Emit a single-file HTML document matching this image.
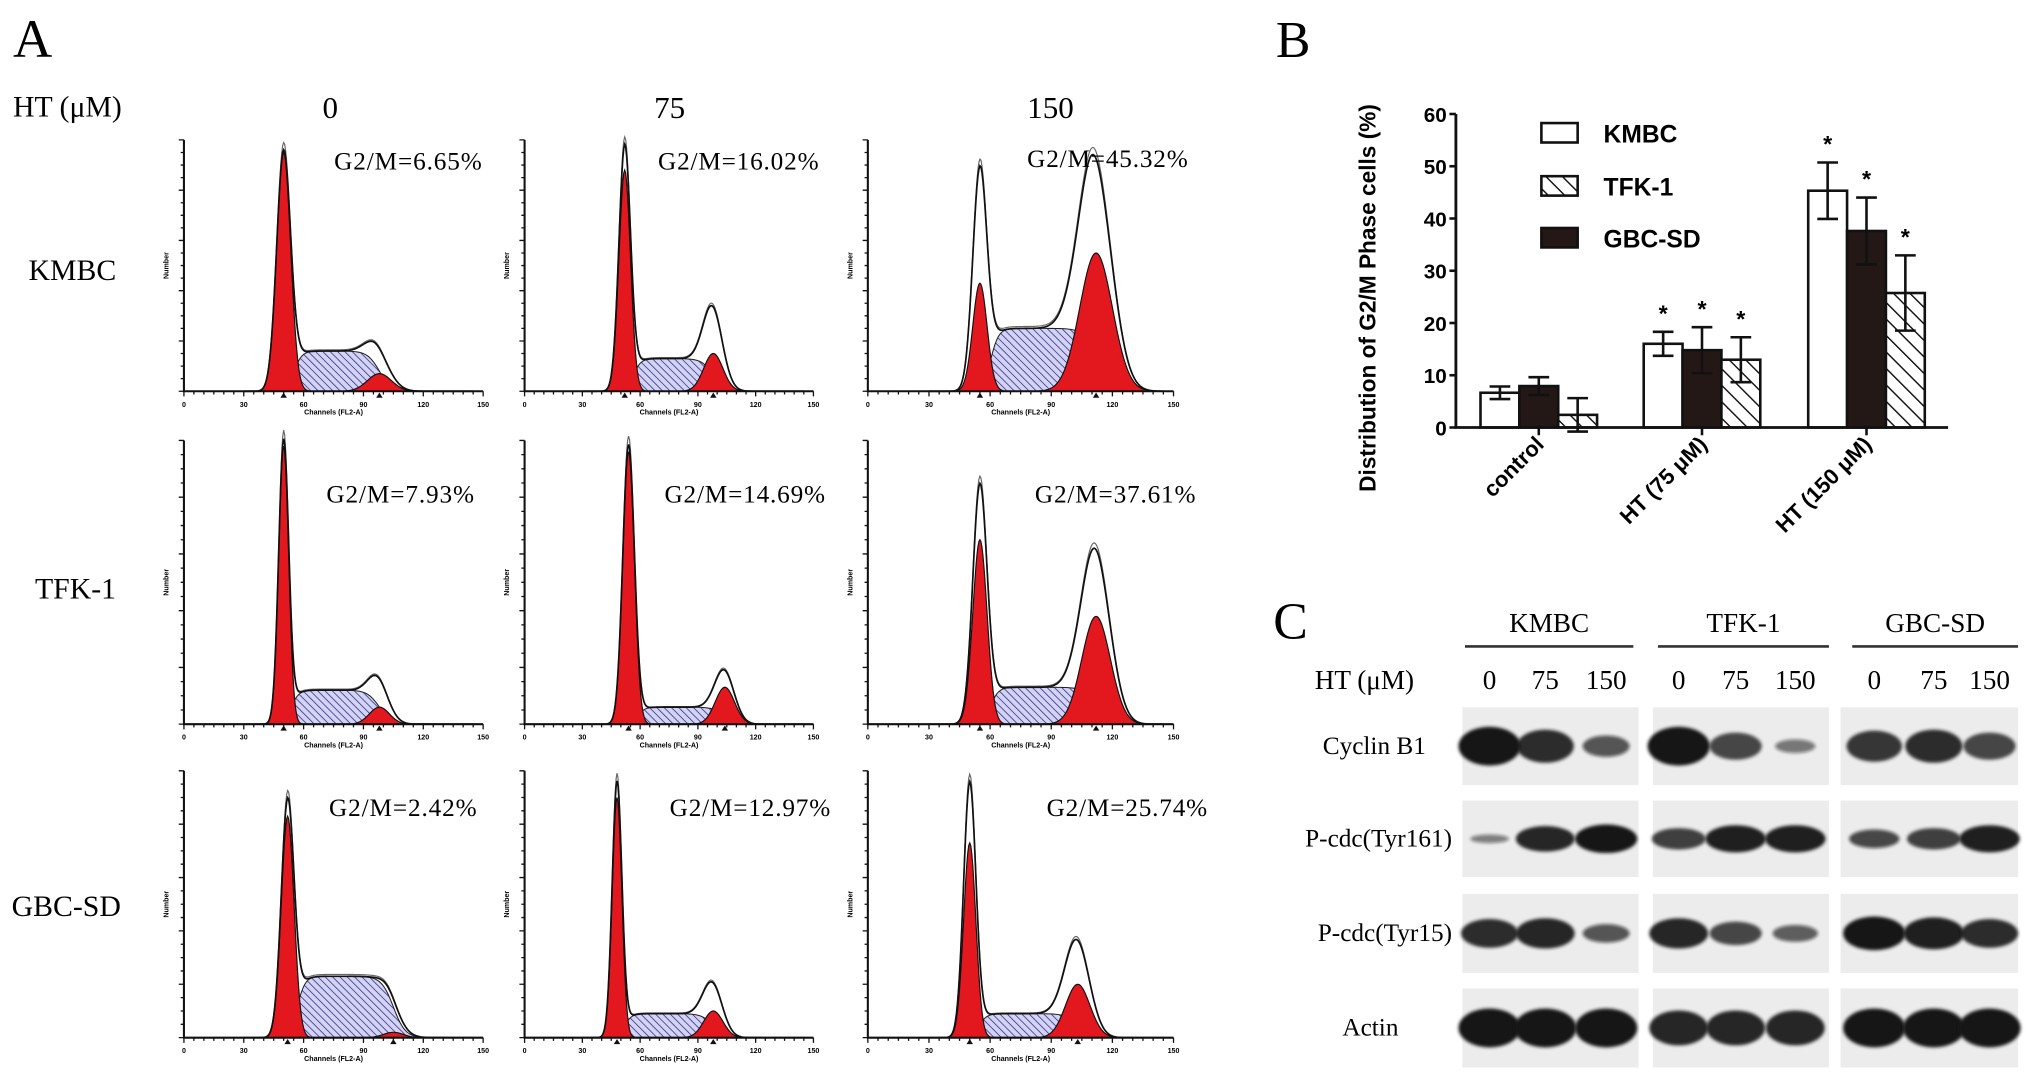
<!DOCTYPE html>
<html><head><meta charset="utf-8"><style>
html,body{margin:0;padding:0;background:#fff;}
svg{display:block;}
.serif{font-family:"Liberation Serif",serif;}
.sans{font-family:"Liberation Sans",sans-serif;font-weight:bold;}
</style></head><body>
<svg id="fig" width="2031" height="1083" viewBox="0 0 1568 836" preserveAspectRatio="none" xmlns="http://www.w3.org/2000/svg">
<defs>
<pattern id="hatchBlue" patternUnits="userSpaceOnUse" width="4" height="4" patternTransform="rotate(-45)">
<rect width="4" height="4" fill="#d4d4f2"/><line x1="0" y1="0" x2="0" y2="4" stroke="#3a3a9a" stroke-width="1.3"/></pattern>
<pattern id="hatchBlack" patternUnits="userSpaceOnUse" width="9" height="9" patternTransform="rotate(-45)">
<rect width="9" height="9" fill="#fff"/><line x1="0" y1="0" x2="0" y2="9" stroke="#111" stroke-width="2.2"/></pattern>
<filter id="blur" x="-20%" y="-50%" width="140%" height="200%"><feGaussianBlur stdDeviation="1.2"/></filter>
</defs>
<g id="panelA">
<text class="serif" x="10" y="44" font-size="42">A</text>
<text class="serif" x="10" y="90" font-size="23">HT (μM)</text>
<text class="serif" x="255" y="91" font-size="24" text-anchor="middle">0</text>
<text class="serif" x="517" y="91" font-size="24" text-anchor="middle">75</text>
<text class="serif" x="811" y="91" font-size="24" text-anchor="middle">150</text>
<text class="serif" x="22" y="216" font-size="23">KMBC</text>
<text class="serif" x="27" y="462" font-size="23">TFK-1</text>
<text class="serif" x="9" y="707" font-size="23">GBC-SD</text>
</g>
<g id="panelB">
<text class="serif" x="985" y="44" font-size="40">B</text>
</g>
<g id="panelC">
<text class="serif" x="983" y="493" font-size="40">C</text>
</g>
</svg>
<script>
// ---------- Panel A: flow cytometry histograms (row-major: KMBC, TFK-1, GBC-SD x 0,75,150) ----------
const g2mLabels = ["G2/M=6.65%","G2/M=16.02%","G2/M=45.32%","G2/M=7.93%","G2/M=14.69%","G2/M=37.61%","G2/M=2.42%","G2/M=12.97%","G2/M=25.74%"];
const g1Center = [50,52,55,50,54,55,52,48,50];
const g1Height = [0.95,0.88,0.43,0.98,0.96,0.65,0.83,0.90,0.73];
const g1Outline = [0.95,0.97,0.88,0.99,0.98,0.84,0.88,0.95,0.95];
const g1Sigma = [3.5,3.0,3.5,2.5,3.0,3.5,3.2,2.5,3.0];
const sLevel = [0.16,0.13,0.25,0.12,0.06,0.13,0.23,0.09,0.09];
const g2Center = [98,98,112,98,104,112,105,98,103];
const g2Height = [0.07,0.15,0.55,0.06,0.13,0.38,0.02,0.10,0.20];
const g2Outline = [0.09,0.27,0.80,0.10,0.16,0.55,0.03,0.16,0.32];
const g2Sigma = [6,5,8,5,5,7,5,5,6];
const channelTicks = [0,30,60,90,120,150];

const NS="http://www.w3.org/2000/svg";
const svg=document.getElementById('fig');
function mk(tag,attrs,parent){const e=document.createElementNS(NS,tag);for(const k in attrs)e.setAttribute(k,attrs[k]);(parent||svg).appendChild(e);return e;}
const colX=[[142,373],[405,628],[670,906]];
const rowY=[[108,302],[340,559],[595,801]];
const labelPos=[[258,131],[508,131],[793,129],[252,388],[513,388],[799,388],[254,630],[517,630],[808,630]];
function gauss(x,c,h,s){return h*Math.exp(-(x-c)*(x-c)/(2*s*s));}
function sig(t){return 1/(1+Math.exp(-t));}
const pA=document.getElementById('panelA');
for(let i=0;i<9;i++){
  const r=Math.floor(i/3),c=i%3;
  const x0=colX[c][0],x1=colX[c][1],top=rowY[r][0],base=rowY[r][1];
  const H=base-top;
  const xs=ch=>x0+(ch/150)*(x1-x0);
  const ys=v=>base-v*H;
  const g=mk('g',{},pA);
  
  
  const S=ch=>sLevel[i]*sig((ch-(g1Center[i]+1.5*g1Sigma[i]))/2)*sig((g2Center[i]-ch)/3);
  const G1=ch=>gauss(ch,g1Center[i],g1Height[i],g1Sigma[i]);
  const G2=ch=>gauss(ch,g2Center[i],g2Height[i],g2Sigma[i]);
  const OUT=ch=>gauss(ch,g1Center[i],g1Outline[i],g1Sigma[i])+S(ch)+gauss(ch,g2Center[i],g2Outline[i],g2Sigma[i]);
  function area(f){let d='M'+xs(30)+','+base;for(let ch=30;ch<=145;ch+=0.5){d+=' L'+xs(ch).toFixed(2)+','+ys(f(ch)).toFixed(2);}return d+' L'+xs(145)+','+base+' Z';}
  function line(f){let d='';for(let ch=30;ch<=145;ch+=0.5){d+=(d?' L':'M')+xs(ch).toFixed(2)+','+ys(f(ch)).toFixed(2);}return d;}
  const sp=mk('path',{d:area(S),fill:'url(#hatchBlue)',stroke:'#222','stroke-width':0.8},g);
  
  
  const p1=mk('path',{d:area(G1),fill:'#e3171e',stroke:'#111','stroke-width':0.9},g);
  
  
  const p2=mk('path',{d:area(G2),fill:'#e3171e',stroke:'#111','stroke-width':0.9},g);
  
  
  const o2=mk('path',{d:line(ch=>OUT(ch)*1.03),fill:'none',stroke:'#666','stroke-width':0.9},g);
  
  
  const o=mk('path',{d:line(OUT),fill:'none',stroke:'#111','stroke-width':1.3},g);
  
  
  const ax=mk('path',{d:'M'+x0+','+top+' L'+x0+','+base+' L'+x1+','+base,fill:'none',stroke:'#111','stroke-width':1.6},g);
  
  
  let tk='';
  for(let ch=0;ch<=150;ch+=5){tk+='M'+xs(ch)+','+base+' l0,'+(ch%30===0?4:2.5)+' ';}
  for(let k=0;k<=20;k++){const y=base-k*H/20;tk+='M'+x0+','+y+' l-'+(k%4===0?4:2.5)+',0 ';}
  const t=mk('path',{d:tk,stroke:'#111','stroke-width':1,fill:'none'},g);
  
  
  channelTicks.forEach(v=>{const tl=mk('text',{x:xs(v),y:base+12,'font-size':5.5,'text-anchor':'middle',class:'sans'},g);tl.textContent=v;
    
    });
  const ct=mk('text',{x:(x0+x1)/2,y:base+18,'font-size':5.5,'text-anchor':'middle',class:'sans'},g);
  ct.textContent='Channels (FL2-A)';
  
  
  const yt=mk('text',{x:x0-12,y:(top+base)/2,'font-size':5.5,'text-anchor':'middle',class:'sans',transform:'rotate(-90 '+(x0-12)+' '+((top+base)/2)+')'},g);
  yt.textContent='Number';
  
  
  [g1Center[i],g2Center[i]].forEach(cc=>{const m=mk('path',{d:'M'+(xs(cc)-2.5)+','+(base+5)+' l2.5,-4 l2.5,4 Z',fill:'#111'},g);
    
    });
  const lt=mk('text',{x:labelPos[i][0],y:labelPos[i][1],'font-size':19.5,class:'serif',textLength:(i%3===0?114:124)},g);
  lt.textContent=g2mLabels[i];
  
  
}

// ---------- Panel B: bar chart ----------
const groups = ["control","HT (75 μM)","HT (150 μM)"];
const seriesNames = ["KMBC","GBC-SD","TFK-1"];
const kmbcVals = [6.65,16.02,45.32];
const kmbcErr = [1.2,2.3,5.4];
const gbcVals = [7.93,14.8,37.61];
const gbcErr = [1.7,4.4,6.4];
const tfkVals = [2.42,12.97,25.74];
const tfkErr = [3.2,4.3,7.2];
const showStar = [false,true,true];
const yTicks = [0,10,20,30,40,50,60];

const pB=document.getElementById('panelB');
const bx0=1124,bx1=1504,by0=330,by60=88;
const yB=v=>by0-(v/60)*(by0-by60);
const groupCenter=[1188,1314,1441];
const bw=30;
const yTitle=mk('text',{x:1062,y:230,'font-size':17.5,'text-anchor':'middle',class:'sans',transform:'rotate(-90 1062 230)'},pB);
yTitle.textContent='Distribution of G2/M Phase cells (%)';


yTicks.forEach(v=>{
  const t=mk('text',{x:1117,y:yB(v)+6,'font-size':16,'text-anchor':'end',class:'sans'},pB);t.textContent=v;
  
  
  const l=mk('line',{x1:bx0-5,y1:yB(v),x2:bx0,y2:yB(v),stroke:'#111','stroke-width':2},pB);
  
  
});
const allVals=[kmbcVals,gbcVals,tfkVals],allErr=[kmbcErr,gbcErr,tfkErr];
const fills=['#fff','#231815','url(#hatchBlack)'];
groups.forEach((gname,gi)=>{
  for(let s=0;s<3;s++){
    const v=allVals[s][gi],e=allErr[s][gi];
    const x=groupCenter[gi]-45+s*bw;
    const cx=x+bw/2;
    const b=mk('rect',{x:x,y:yB(v),width:bw,height:by0-yB(v),fill:fills[s],stroke:'#111','stroke-width':2},pB);
    
    
    const eb=mk('path',{d:'M'+cx+','+yB(v-e)+' L'+cx+','+yB(v+e)+' M'+(cx-8)+','+yB(v+e)+' l16,0 M'+(cx-8)+','+yB(v-e)+' l16,0',stroke:'#111','stroke-width':2,fill:'none'},pB);
    
    
    if(showStar[gi]){
      const st=mk('text',{x:cx,y:yB(v+e)-8,'font-size':18,'text-anchor':'middle',class:'sans'},pB);st.textContent='*';
      
      
    }
  }
  const tk=mk('line',{x1:groupCenter[gi],y1:by0,x2:groupCenter[gi],y2:by0+6,stroke:'#111','stroke-width':2},pB);
  
  
  const tx=groupCenter[gi]+5,ty=by0+14;
  const lb=mk('text',{x:tx,y:ty,'font-size':17,'text-anchor':'end',class:'sans',transform:'rotate(-45 '+tx+' '+ty+')'},pB);
  lb.textContent=gname;
  
  
});
const axB=mk('path',{d:'M'+bx0+','+by60+' L'+bx0+','+by0+' L'+bx1+','+by0,fill:'none',stroke:'#111','stroke-width':2.2},pB);


const legendNames=["KMBC","TFK-1","GBC-SD"];
const legendFills=['#fff','url(#hatchBlack)','#231815'];
const legendY=[95,136,176];
legendNames.forEach((n,k)=>{
  const r=mk('rect',{x:1190,y:legendY[k],width:28,height:15,fill:legendFills[k],stroke:'#111','stroke-width':2},pB);
  
  
  const t=mk('text',{x:1238,y:legendY[k]+15,'font-size':19,class:'sans'},pB);t.textContent=n;
  
  
});

// ---------- Panel C: western blots ----------
const blotCellLines = ["KMBC","TFK-1","GBC-SD"];
const doses = ["0","75","150"];
const proteins = ["Cyclin B1","P-cdc(Tyr161)","P-cdc(Tyr15)","Actin"];
// band intensity (0-1) per protein row, 9 lanes
const bandCyclin = [1.0,0.85,0.55, 1.0,0.7,0.35, 0.8,0.85,0.7];
const bandTyr161 = [0.3,0.9,1.0, 0.75,0.95,0.95, 0.65,0.75,0.95];
const bandTyr15 = [0.85,0.9,0.55, 0.9,0.7,0.5, 1.0,0.95,0.85];
const bandActin = [1.0,1.0,1.0, 0.9,0.9,0.9, 1.0,1.0,1.0];
const bandSets=[bandCyclin,bandTyr161,bandTyr15,bandActin];

const pC=document.getElementById('panelC');
const boxX=[[1129,1265],[1276,1412],[1421,1558]];
const boxY=[[546,606],[618,677],[690,751],[763,824]];
const laneX=[[1150,1193,1240],[1296,1340,1386],[1447,1493,1536]];
const headerX=[[1131,1261],[1280,1412],[1430,1558]];
const rowLabelX=[1061,1121,1121,1058];
const rowLabelAnchor=['middle','end','end','middle'];
const bandMaxH=[30,22,26,30];
blotCellLines.forEach((n,k)=>{
  const t=mk('text',{x:(headerX[k][0]+headerX[k][1])/2,y:488,'font-size':21,'text-anchor':'middle',class:'serif'},pC);t.textContent=n;
  
  
  const l=mk('line',{x1:headerX[k][0],y1:499,x2:headerX[k][1],y2:499,stroke:'#333','stroke-width':2},pC);
  
  
  doses.forEach((d,j)=>{const dt=mk('text',{x:laneX[k][j],y:532,'font-size':21,'text-anchor':'middle',class:'serif'},pC);dt.textContent=d;
    
    });
});
const htC=mk('text',{x:1015,y:532,'font-size':21,class:'serif'},pC);htC.textContent='HT (μM)';


proteins.forEach((p,r)=>{
  const cy=(boxY[r][0]+boxY[r][1])/2;
  const t=mk('text',{x:rowLabelX[r],y:cy+6,'font-size':19.5,'text-anchor':rowLabelAnchor[r],class:'serif'},pC);t.textContent=p;
  
  
  for(let k=0;k<3;k++){
    const bx=mk('rect',{x:boxX[k][0],y:boxY[r][0],width:boxX[k][1]-boxX[k][0],height:boxY[r][1]-boxY[r][0],fill:'#ececec'},pC);
    
    
    for(let j=0;j<3;j++){
      const v=bandSets[r][k*3+j];
      const e=mk('ellipse',{cx:laneX[k][j],cy:cy,rx:11+13*v,ry:Math.max(3,bandMaxH[r]*v/2),fill:'#151515','fill-opacity':(0.3+0.7*v).toFixed(2),filter:'url(#blur)'},pC);
      
      
    }
  }
});
</script>
</body></html>
